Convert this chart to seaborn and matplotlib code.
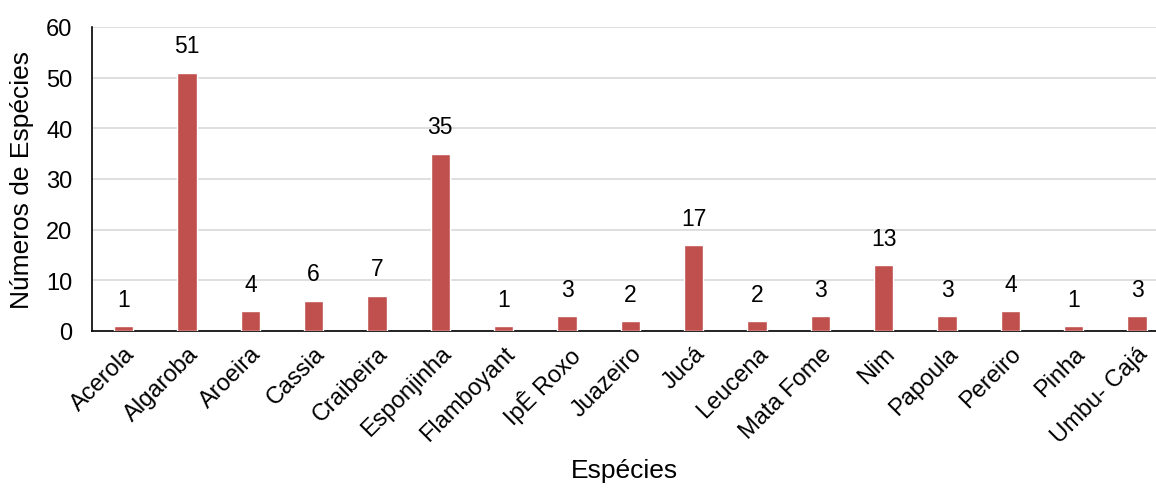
import numpy as np
import pandas as pd
import matplotlib
matplotlib.use("Agg")
import matplotlib.pyplot as plt
import seaborn as sns

especies = ["Acerola", "Algaroba", "Aroeira", "Cassia", "Craibeira", "Esponjinha",
            "Flamboyant", "IpÊ Roxo", "Juazeiro", "Jucá", "Leucena", "Mata Fome",
            "Nim", "Papoula", "Pereiro", "Pinha", "Umbu- Cajá"]
quantidade = [1, 51, 4, 6, 7, 35, 1, 3, 2, 17, 2, 3, 13, 3, 4, 1, 3]

df = pd.DataFrame({"Espécies": especies, "Números de Espécies": quantidade})

sns.set_style("white")
plt.rcParams["font.family"] = ["Liberation Sans", "DejaVu Sans"]
plt.rcParams["text.color"] = "black"
plt.rcParams["axes.labelcolor"] = "black"
plt.rcParams["xtick.color"] = "black"
plt.rcParams["ytick.color"] = "black"

fig = plt.figure(figsize=(11.56, 4.89), dpi=100)
ax = fig.add_axes([92 / 1156, 1 - 332 / 489, 1 - 92 / 1156, (332 - 28) / 489])

sns.barplot(data=df, x="Espécies", y="Números de Espécies", color="#C0504D",
            width=0.31, saturation=1, ax=ax, zorder=3)

for i, v in enumerate(quantidade):
    ax.text(i, v + 3, str(v), ha="center", va="bottom", fontsize=16.5)

ax.set_ylim(0, 60)
ax.set_yticks(range(0, 61, 10))
ax.set_xlim(-0.5, 16.3)
ax.yaxis.grid(True, color="#d9d9d9", linewidth=1.2, zorder=0)
for s in ["top", "right"]:
    ax.spines[s].set_visible(False)
for s in ["left", "bottom"]:
    ax.spines[s].set_color("black")
    ax.spines[s].set_linewidth(1.2)
ax.tick_params(axis="y", labelsize=17, length=0, pad=14)
ax.tick_params(axis="x", labelsize=17, length=0, pad=8)
plt.setp(ax.get_xticklabels(), rotation=45, ha="right", rotation_mode="anchor")
ax.set_xlabel("Espécies", fontsize=19, labelpad=8)
ax.set_ylabel("Números de Espécies", fontsize=19, labelpad=9)

fig.savefig("out.png", dpi=100)
